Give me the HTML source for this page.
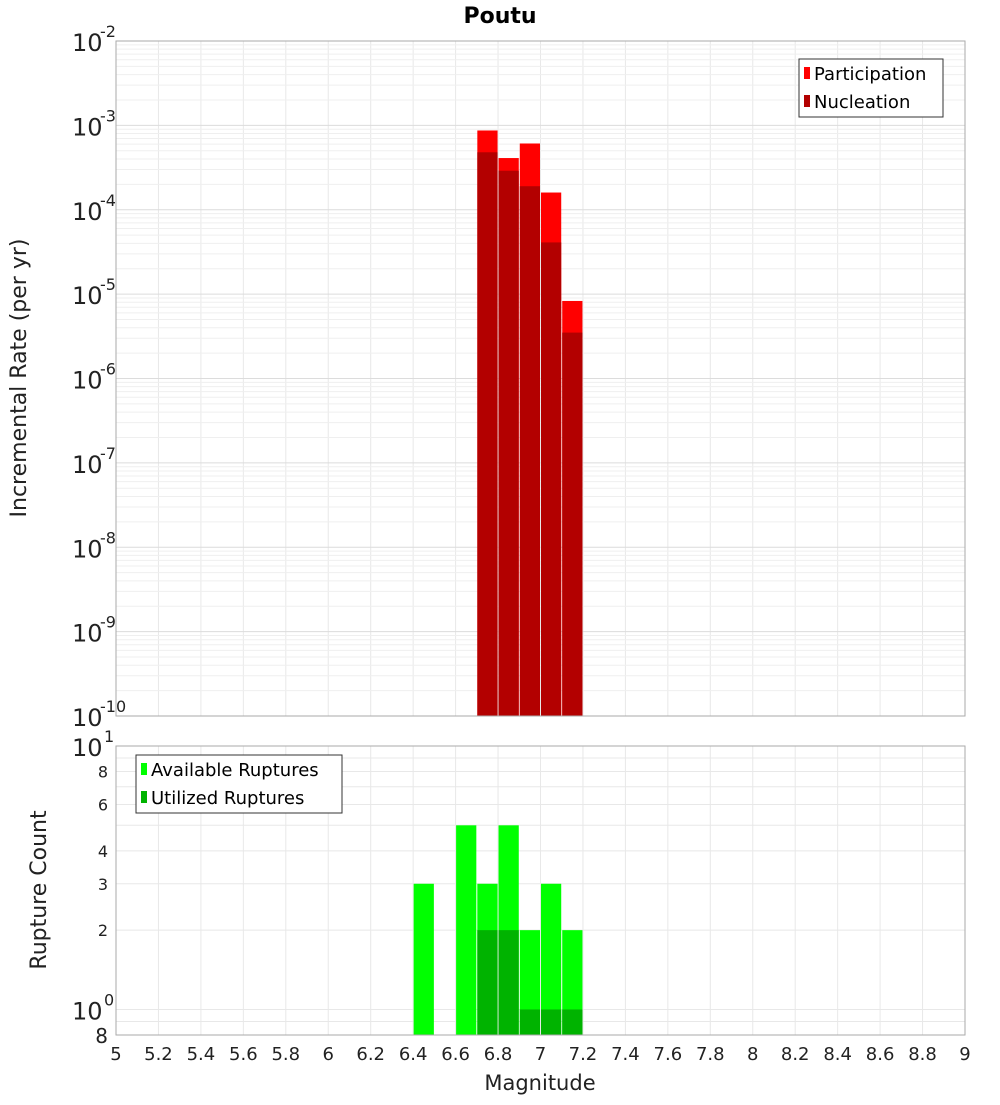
<!DOCTYPE html>
<html><head><meta charset="utf-8"><style>
body{margin:0;background:#fff;}
svg text{font-family:"DejaVu Sans","Liberation Sans",sans-serif;}
</style></head><body>
<svg id="c" width="1000" height="1100" xmlns="http://www.w3.org/2000/svg"></svg>
<script>
const bins=[6.45,6.65,6.75,6.85,6.95,7.05,7.15];
const partic=[0,0,8.7e-4,4.1e-4,6.1e-4,1.6e-4,8.3e-6];
const nucl=[0,0,4.8e-4,2.9e-4,1.9e-4,4.1e-5,3.5e-6];
const avail=[3,0,5,3,5,2,3,2];
const availBins=[6.45,6.55,6.65,6.75,6.85,6.95,7.05,7.15];
const utilBins=[6.75,6.85,6.95,7.05,7.15];
const util=[2,2,1,1,1];
const xTicks=[5,5.2,5.4,5.6,5.8,6,6.2,6.4,6.6,6.8,7,7.2,7.4,7.6,7.8,8,8.2,8.4,8.6,8.8,9];
const topExps=[-10,-9,-8,-7,-6,-5,-4,-3,-2];
const botTicks=[8,6,4,3,2];

const svg=document.getElementById('c');
const NS='http://www.w3.org/2000/svg';
function mk(tag,attrs,parent){const e=document.createElementNS(NS,tag);for(const k in attrs)e.setAttribute(k,attrs[k]);(parent||svg).appendChild(e);return e;}
const L=116,R=965,T1=41,B1=716,T2=746,B2=1035;
const xs=v=>L+(v-5)/4*(R-L);
const y1=v=>B1-(Math.log10(v)+10)/8*(B1-T1);
const y2=v=>B2-(Math.log10(v)-Math.log10(0.8))/(1-Math.log10(0.8))*(B2-T2);

const g=mk('g',{});

for(const t of xTicks){mk('line',{x1:xs(t),x2:xs(t),y1:T1,y2:B1,stroke:'#e8e8e8'},g);mk('line',{x1:xs(t),x2:xs(t),y1:T2,y2:B2,stroke:'#e8e8e8'},g);}
for(let e=-10;e<-2;e++)for(let m=1;m<10;m++){const y=y1(m*Math.pow(10,e));mk('line',{x1:L,x2:R,y1:y,y2:y,stroke:m==1?'#dcdcdc':'#efefef'},g);}
for(const v of [0.8,0.9,1,2,3,4,5,6,7,8,9,10]){const y=y2(v);mk('line',{x1:L,x2:R,y1:y,y2:y,stroke:'#e8e8e8'},g);}

bins.forEach((b,i)=>{
 if(partic[i]>0){const r=mk('rect',{x:xs(b-0.05)+0.5,width:xs(b+0.05)-xs(b-0.05)-1,y:y1(partic[i]),height:B1-y1(partic[i]),fill:'#ff0000'});
 }
 if(nucl[i]>0){const r=mk('rect',{x:xs(b-0.05)+0.5,width:xs(b+0.05)-xs(b-0.05)-1,y:y1(nucl[i]),height:B1-y1(nucl[i]),fill:'#b30000'});
 }
});
availBins.forEach((b,i)=>{if(avail[i]>0){const r=mk('rect',{x:xs(b-0.05)+0.5,width:xs(b+0.05)-xs(b-0.05)-1,y:y2(avail[i]),height:B2-y2(avail[i]),fill:'#00ff00'});
 }});
utilBins.forEach((b,i)=>{const r=mk('rect',{x:xs(b-0.05)+0.5,width:xs(b+0.05)-xs(b-0.05)-1,y:y2(util[i]),height:B2-y2(util[i]),fill:'#00b300'});
 });

mk('rect',{x:L,y:T1,width:R-L,height:B1-T1,fill:'none',stroke:'#aaa'});
mk('rect',{x:L,y:T2,width:R-L,height:B2-T2,fill:'none',stroke:'#aaa'});

for(const e of topExps){const y=y1(Math.pow(10,e));
 const t=mk('text',{x:72,y:y+10,'font-size':24,fill:'#222'});t.textContent='10';
 
 const s=mk('text',{x:100,y:y-4,'font-size':16,fill:'#222'});s.textContent=String(e);}
for(const v of botTicks){const t=mk('text',{x:108,y:y2(v)+6,'font-size':16,'text-anchor':'end',fill:'#222'});t.textContent=v;
 }
[[10,'1'],[1,'0']].forEach(([v,e])=>{const y=y2(v);const t=mk('text',{x:72,y:y+10,'font-size':24,fill:'#222'});t.textContent='10';
 const s=mk('text',{x:104,y:y-4,'font-size':16,fill:'#222'});s.textContent=e;});
{const t=mk('text',{x:108,y:B2+8,'font-size':20,'text-anchor':'end',fill:'#222'});t.textContent='8';}
for(const v of xTicks){const t=mk('text',{x:xs(v),y:1060,'font-size':18,'text-anchor':'middle',fill:'#222'});t.textContent=String(v);
 }

let t=mk('text',{x:540,y:1090,'font-size':21,'text-anchor':'middle',fill:'#222'});t.textContent='Magnitude';

t=mk('text',{x:0,y:0,'font-size':22,'text-anchor':'middle',fill:'#222',transform:'translate(26,378) rotate(-90)'});t.textContent='Incremental Rate (per yr)';

t=mk('text',{x:0,y:0,'font-size':22,'text-anchor':'middle',fill:'#222',transform:'translate(46,890) rotate(-90)'});t.textContent='Rupture Count';

t=mk('text',{x:500,y:23,'font-size':22,'font-weight':'bold','text-anchor':'middle',fill:'#000'});t.textContent='Poutu';


function legend(x,y,w,items,name){const gg=mk('g',{});
 mk('rect',{x:x,y:y,width:w,height:items.length*28+2,fill:'#fff',stroke:'#333'},gg);
 items.forEach(([c,l],i)=>{mk('rect',{x:x+5,y:y+8+i*28,width:6,height:12,fill:c},gg);
 const tt=mk('text',{x:x+15,y:y+21+i*28,'font-size':18,fill:'#000'},gg);tt.textContent=l;});}
legend(799,59,144,[['#ff0000','Participation'],['#b30000','Nucleation']],'top-legend');
legend(136,755,206,[['#00ff00','Available Ruptures'],['#00b300','Utilized Ruptures']],'bottom-legend');
</script>
</body></html>
